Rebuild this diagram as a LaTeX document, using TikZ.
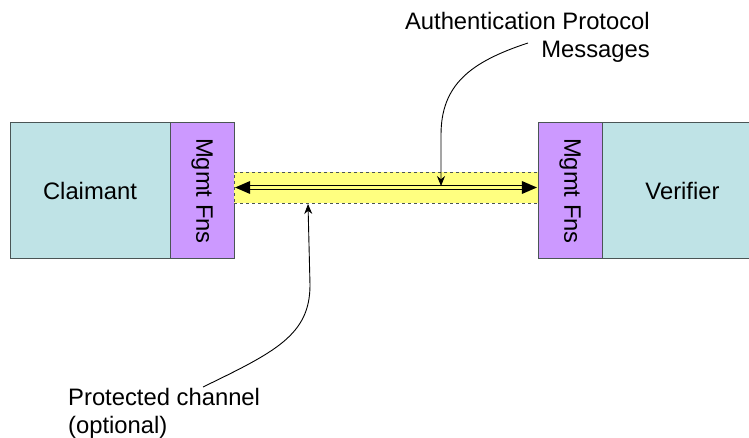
\documentclass[tikz,border=0pt]{standalone}
\usepackage{fontspec}
\setmainfont{Liberation Sans}
\usetikzlibrary{arrows.meta}
\definecolor{boxcyan}{HTML}{BFE3E6}
\definecolor{boxpurple}{HTML}{CC99FF}
\definecolor{bandyellow}{HTML}{FFFF80}
\definecolor{edgegray}{HTML}{4A5555}
\tikzset{
  lbl/.style={font=\fontsize{23.8}{28}\selectfont, inner sep=0pt},
  mainbox/.style={draw=edgegray, fill=boxcyan, line width=1pt, minimum width=160pt, minimum height=136pt, inner sep=0pt, lbl},
  fnbox/.style={draw=edgegray, fill=boxpurple, line width=1pt, minimum width=64pt, minimum height=136pt, inner sep=0pt},
  band/.style={draw=edgegray, fill=bandyellow, dashed, line width=0.8pt, minimum width=304pt, minimum height=31pt, inner sep=0pt},
  callout/.style={line width=0.9pt, -{Stealth[length=10pt,width=8pt]}},
  tip/.style={fill=black}
}
\begin{document}
\begin{tikzpicture}[x=1pt,y=-1pt]
\useasboundingbox (0,0) rectangle (749,438);
\clip (0,0) rectangle (749,438);
\node[mainbox] (claimant) at (90,191) {Claimant};
\node[fnbox] (fnl) at (202,191) {};
\node[lbl, rotate=-90] at (fnl.center) {Mgmt Fns};
\node[band] (band) at (386,187.5) {};
\node[fnbox] (fnr) at (570,191) {};
\node[lbl, rotate=-90] at (fnr.center) {Mgmt Fns};
\node[mainbox, anchor=west] (verifier) at (602,191) {Verifier};
% double arrow
\coordinate (aL) at ([xshift=1.5pt]band.west);
\coordinate (aR) at ([xshift=-1.5pt]band.east);
\draw[line width=1.2pt] ([xshift=10pt,yshift=-1.7pt]aL) -- ([xshift=-10pt,yshift=-1.7pt]aR);
\draw[line width=1.2pt] ([xshift=10pt,yshift=1.7pt]aL) -- ([xshift=-10pt,yshift=1.7pt]aR);
\fill[tip] (aL) -- ++(15,-6.5) -- ++(0,13) -- cycle;
\fill[tip] (aR) -- ++(-15,-6.5) -- ++(0,13) -- cycle;
% labels
\node[lbl, align=right, anchor=base east] (auth) at (650,58) {Authentication Protocol\\Messages};
\node[lbl, align=left, anchor=base west] (prot) at (68,433) {Protected channel\\(optional)};
\coordinate (authstart) at (528,43);
\coordinate (authend) at (441,186);
\draw[callout] (authstart) .. controls (470,62) and (441,85) .. (441,135) -- (authend);
\coordinate (protstart) at (203,387);
\coordinate (protend) at (308,204);
\draw[callout] (protstart) .. controls (275,352) and (310,335) .. (310,285) -- (protend);
\end{tikzpicture}
\end{document}
